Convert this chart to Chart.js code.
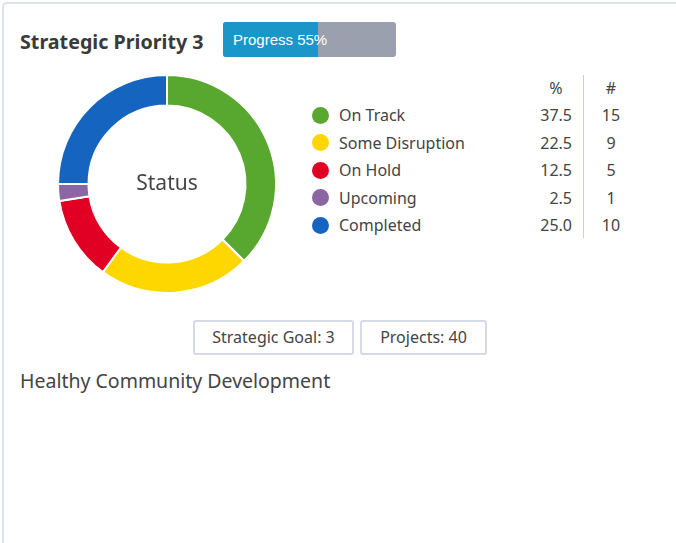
<!DOCTYPE html>
<html>
<head>
<meta charset="utf-8">
<script src="https://cdn.jsdelivr.net/npm/chart.js@4/dist/chart.umd.min.js"></script>
<style>
  html, body { margin:0; padding:0; background:#fff; width:676px; height:543px; overflow:hidden; font-family: "Noto Sans", sans-serif; color:#444; }
  .card { position:absolute; left:2px; top:2px; width:700px; height:600px; border:2px solid #dde0ee; border-radius:5px; box-sizing:border-box; }
  .title { position:absolute; left:20px; top:29px; font-size:19.7px; line-height:26px; font-weight:bold; color:#3a3a3a; white-space:nowrap; }
  .prog { position:absolute; left:223px; top:22px; width:173px; height:35px; background:#9aa0ad; border-radius:3px; overflow:hidden; }
  .prog .fill { position:absolute; left:0; top:0; height:100%; background:#1a96c8; }
  .prog .txt { position:absolute; left:10px; top:0; line-height:35px; color:#fff; font-family:"Liberation Sans", Arial, sans-serif; font-size:15px; }
  .chartwrap { position:absolute; left:47px; top:64px; width:240px; height:240px; }
  .center { position:absolute; left:67px; top:169px; width:200px; text-align:center; font-size:21px; color:#444; line-height:26px; }
  .legend { position:absolute; left:0; top:0; }
  .row { position:absolute; font-size:16px; line-height:20px; color:#444; white-space:nowrap; }
  .dot { position:absolute; width:17px; height:17px; border-radius:50%; }
  .vline { position:absolute; left:583px; top:75px; width:1px; height:163px; background:#c8ccdc; }
  .btn { position:absolute; top:320px; height:35px; border:2px solid #d6d9e8; border-radius:3px; box-sizing:border-box; font-size:16px; color:#444; text-align:center; line-height:31px; }
  .sub { position:absolute; left:20px; top:368px; font-size:19.5px; line-height:26px; color:#444; white-space:nowrap; }
</style>
</head>
<body>
<div class="card"></div>
<div class="title" id="title"></div>
<div class="prog"><div class="fill" id="fill"></div><div class="txt" id="progtxt"></div></div>
<div class="chartwrap"><canvas id="c" width="240" height="240"></canvas></div>
<div class="center">Status</div>
<div class="legend" id="legend"></div>
<div class="vline"></div>
<div class="btn" style="left:193px;width:161px;" id="b1"></div>
<div class="btn" style="left:360px;width:127px;" id="b2"></div>
<div class="sub" id="sub"></div>
<script>
const categories = ["On Track", "Some Disruption", "On Hold", "Upcoming", "Completed"];
const percents = [37.5, 22.5, 12.5, 2.5, 25.0];
const counts = [15, 9, 5, 1, 10];
const colors = ["#58a82f", "#fed600", "#e10024", "#8c65a3", "#1565c0"];
const progress = 55;
const titleText = "Strategic Priority 3";
const goalText = "Strategic Goal: 3";
const projectsText = "Projects: 40";
const subtitle = "Healthy Community Development";

document.getElementById('title').textContent = titleText;
document.getElementById('fill').style.width = progress + '%';
document.getElementById('progtxt').textContent = 'Progress ' + progress + '%';
document.getElementById('b1').textContent = goalText;
document.getElementById('b2').textContent = projectsText;
document.getElementById('sub').textContent = subtitle;

const legend = document.getElementById('legend');
function add(html, style){ const d=document.createElement('div'); d.className='row'; d.innerHTML=html; Object.assign(d.style, style); legend.appendChild(d); return d; }
add('%', {left:'540px', width:'32px', textAlign:'center', top:'78px'});
add('#', {left:'596px', width:'30px', textAlign:'center', top:'78px'});
categories.forEach((c,i)=>{
  const y = 115 + i*27.5;
  const dot = document.createElement('div'); dot.className='dot';
  dot.style.left='312px'; dot.style.top=(y-8.5)+'px'; dot.style.background=colors[i];
  legend.appendChild(dot);
  add(c, {left:'339px', top:(y-10)+'px'});
  add(percents[i].toFixed(1), {left:'520px', width:'52px', textAlign:'right', top:(y-10)+'px'});
  add(String(counts[i]), {left:'596px', width:'30px', textAlign:'center', top:(y-10)+'px'});
});

new Chart(document.getElementById('c'), {
  type: 'doughnut',
  data: { labels: categories, datasets: [{ data: percents, backgroundColor: colors, borderColor: '#fff', borderWidth: 2 }] },
  options: {
    responsive: false, animation: false, cutout: '72%',
    layout: { padding: 0 },
    radius: 109,
    plugins: { legend: { display: false }, tooltip: { enabled: false } }
  }
});
</script>
</body>
</html>
